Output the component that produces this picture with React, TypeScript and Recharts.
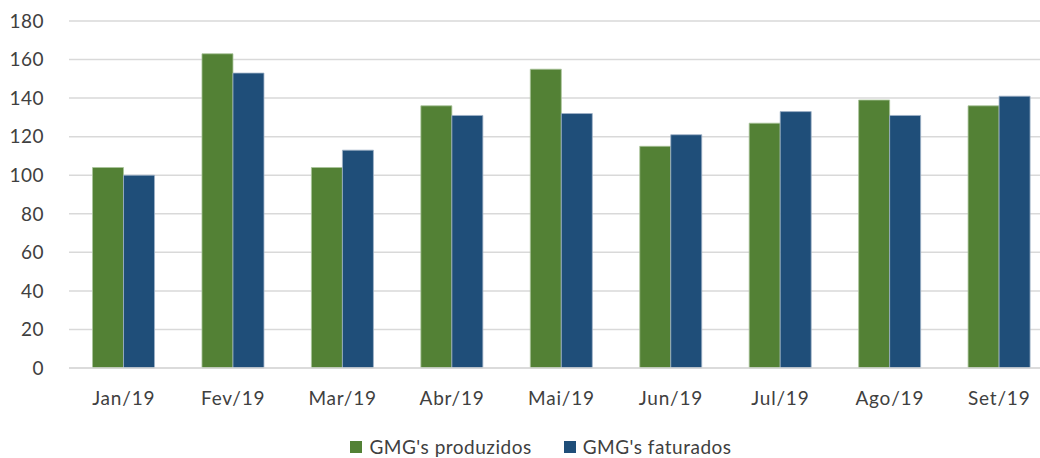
import React from 'react';
import { BarChart, Bar, XAxis, YAxis, CartesianGrid, Legend } from 'recharts';

const months = ['Jan/19', 'Fev/19', 'Mar/19', 'Abr/19', 'Mai/19', 'Jun/19', 'Jul/19', 'Ago/19', 'Set/19'];
const produzidos = [104, 163, 104, 136, 155, 115, 127, 139, 136];
const faturados = [100, 153, 113, 131, 132, 121, 133, 131, 141];
const yTicks = [0, 20, 40, 60, 80, 100, 120, 140, 160, 180];

const seriesNames = ["GMG's produzidos", "GMG's faturados"];
const seriesColors = ['#538135', '#1f4e79'];

const data = months.map((m, i) => ({ month: m, produzidos: produzidos[i], faturados: faturados[i] }));

const FONT = 'Lato, "Open Sans", sans-serif';
const TEXT = '#404040';

// custom legend so order and spacing match the original
const renderLegend = () => (
  <div style={{ height: 40, display: 'flex', justifyContent: 'center', alignItems: 'flex-end', paddingLeft: 28, boxSizing: 'border-box' }}>
    {seriesNames.map((name, i) => (
      <div key={name} style={{ display: 'flex', alignItems: 'center', marginRight: i === 0 ? 32 : 0, paddingBottom: 1 }}>
        <span style={{ width: 12, height: 12, background: seriesColors[i], display: 'inline-block', marginRight: 7 }} />
        <span style={{ fontSize: 19, letterSpacing: 0.5, color: TEXT, fontFamily: FONT, lineHeight: '20px' }}>{name}</span>
      </div>
    ))}
  </div>
);

const App: React.FC = () => {
  return (
    <div style={{ position: 'absolute', left: 0, top: 0, width: 1040, height: 458, background: '#fff', fontFamily: FONT, overflow: 'hidden' }}>
      <BarChart
        width={1040}
        height={458}
        data={data}
        margin={{ top: 21, right: -14, left: 0, bottom: 0 }}
        barCategoryGap="21.5%"
        barGap={0}
        style={{ overflow: 'hidden' }}
      >
        <CartesianGrid vertical={false} stroke="#d9d9d9" strokeWidth={1.5} />
        <XAxis
          dataKey="month"
          axisLine={{ stroke: '#d9d9d9', strokeWidth: 1.5 }}
          tickLine={false}
          tickMargin={18}
          height={50}
          tick={{ fill: TEXT, fontSize: 19, fontFamily: FONT, letterSpacing: 0.8 }}
        />
        <YAxis
          domain={[0, 180]}
          ticks={yTicks}
          width={69}
          axisLine={false}
          tickLine={false}
          tickMargin={19}
          tick={{ fill: TEXT, fontSize: 19, fontFamily: FONT, letterSpacing: 0.5 }}
        />
        <Legend verticalAlign="bottom" content={renderLegend} wrapperStyle={{ height: 40 }} />
        <Bar dataKey="produzidos" name={seriesNames[0]} fill={seriesColors[0]} stroke="#a9c49a" strokeWidth={0.8} isAnimationActive={false} />
        <Bar dataKey="faturados" name={seriesNames[1]} fill={seriesColors[1]} stroke="#9fb3c8" strokeWidth={0.8} isAnimationActive={false} />
      </BarChart>
    </div>
  );
};

export default App;
